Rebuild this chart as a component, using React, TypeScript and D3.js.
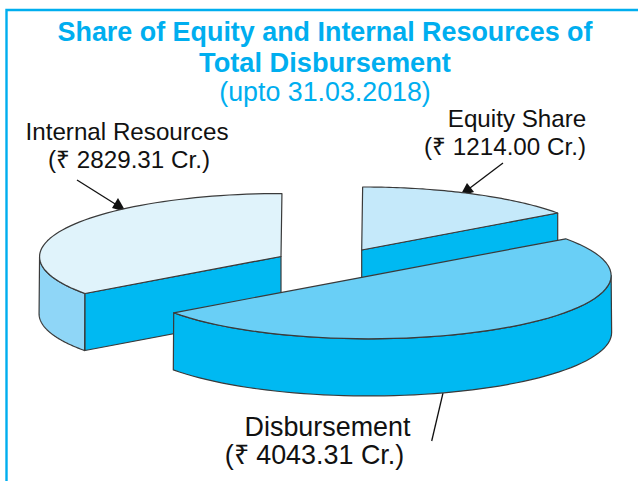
import React from "react";
import * as d3 from "d3";

const categories = ["Disbursement", "Internal Resources", "Equity Share"];
const values = [4043.31, 2829.31, 1214.0];
const amountLabels = ["(₹ 4043.31 Cr.)", "(₹ 2829.31 Cr.)", "(₹ 1214.00 Cr.)"];
const titleLines = ["Share of Equity and Internal Resources of", "Total Disbursement"];
const subtitle = "(upto 31.03.2018)";

const BLUE = "#00aeef";
const EDGE = "#3a3a3a";
const DARK = "#00b9f2";
const WIDTH = 638;
const HEIGHT = 481;
const U: [number, number] = [196, -37];
const V: [number, number] = [141, 51];
const DEPTH = 57;

type Pt = [number, number];
const project = (c: Pt, t: number, r = 1, dy = 0): Pt => [
  c[0] + r * (U[0] * Math.cos(t) + V[0] * Math.sin(t)),
  c[1] + r * (U[1] * Math.cos(t) + V[1] * Math.sin(t)) + dy,
];
const line = d3.line<Pt>();
const samples = (a: number, b: number) => d3.range(61).map((i) => a + ((b - a) * i) / 60);

const centers: Pt[] = [
  [369.7, 275.8],
  [281, 256.5],
  [361.7, 250],
];
const colours = ["#69cff6", "#e0f3fb", "#c5e9fa"];

export default function App() {
  const pie = d3.pie<number>().sort(null).startAngle(0).endAngle(2 * Math.PI)(values);
  const [dis, int, eq] = pie;

  const top = (c: Pt, a: number, b: number) =>
    line([c, ...samples(a, b).map((t) => project(c, t))]) + "Z";
  const wall = (c: Pt, a: number, b: number) => {
    const upper = samples(a, b).map((t) => project(c, t));
    const lower = samples(a, b).map((t) => project(c, t, 1.002, DEPTH)).reverse();
    return line([...upper, ...lower]) + "Z";
  };
  const cut = (c: Pt, t: number) => {
    const p = project(c, t);
    return line([c, p, [p[0], p[1] + DEPTH], [c[0], c[1] + DEPTH]]) + "Z";
  };

  const stroke = { stroke: EDGE, strokeWidth: 1.2, strokeLinejoin: "round" as const };
  const turn = Math.atan(V[0] / U[0]);
  const label = { fontSize: 24.2, fill: "#111", textAnchor: "middle" as const };
  const bigLabel = { ...label, fontSize: 26.9 };

  return (
    <svg
      width={WIDTH}
      height={HEIGHT}
      style={{ position: "absolute", left: 0, top: 0, fontFamily: "'Liberation Sans', Arial, sans-serif" }}
    >
      <rect width={WIDTH} height={HEIGHT} fill="#fff" />
      <path d={`M6.5 ${HEIGHT} V10 H${WIDTH}`} fill="none" stroke={BLUE} strokeWidth={2.4} />

      {titleLines.map((t, i) => (
        <text key={t} x={325} y={41 + i * 31} textAnchor="middle" fontWeight="bold" fontSize={i === 0 ? 26.9 : 27.2} fill={BLUE}>
          {t}
        </text>
      ))}
      <text x={325} y={101} textAnchor="middle" fontSize={26.8} fill={BLUE}>
        {subtitle}
      </text>

      <text x={127} y={140} {...label}>{categories[1]}</text>
      <text x={129} y={168} {...label}>{amountLabels[1]}</text>
      <text x={517} y={127} {...label}>{categories[2]}</text>
      <text x={505} y={155} {...label}>{amountLabels[2]}</text>
      <text x={327.5} y={436} {...bigLabel}>{categories[0]}</text>
      <text x={314.5} y={464} {...bigLabel}>{amountLabels[0]}</text>

      <line x1={77} y1={180} x2={120} y2={207} stroke="#111" strokeWidth={1.3} />
      <path d="M126 212 L112 208 L118 198 Z" fill="#111" />
      <line x1={503} y1={163} x2={466} y2={191} stroke="#111" strokeWidth={1.3} />
      <path d="M460 196 L474 192 L467 183 Z" fill="#111" />
      <line x1={443} y1={393} x2={431.7} y2={441} stroke="#111" strokeWidth={1.3} />

      <path d={wall(centers[1], int.startAngle, int.startAngle + turn)} fill="#8fd6f7" {...stroke} />
      <path d={cut(centers[1], int.startAngle)} fill={DARK} {...stroke} />
      <path d={top(centers[1], int.startAngle, int.endAngle)} fill={colours[1]} {...stroke} />

      <path d={cut(centers[2], eq.endAngle)} fill={DARK} {...stroke} />
      <path d={top(centers[2], eq.startAngle, eq.endAngle)} fill={colours[2]} {...stroke} />

      <path d={wall(centers[0], turn, dis.endAngle)} fill={DARK} {...stroke} />
      <path d={top(centers[0], dis.startAngle, dis.endAngle)} fill={colours[0]} {...stroke} />
    </svg>
  );
}
